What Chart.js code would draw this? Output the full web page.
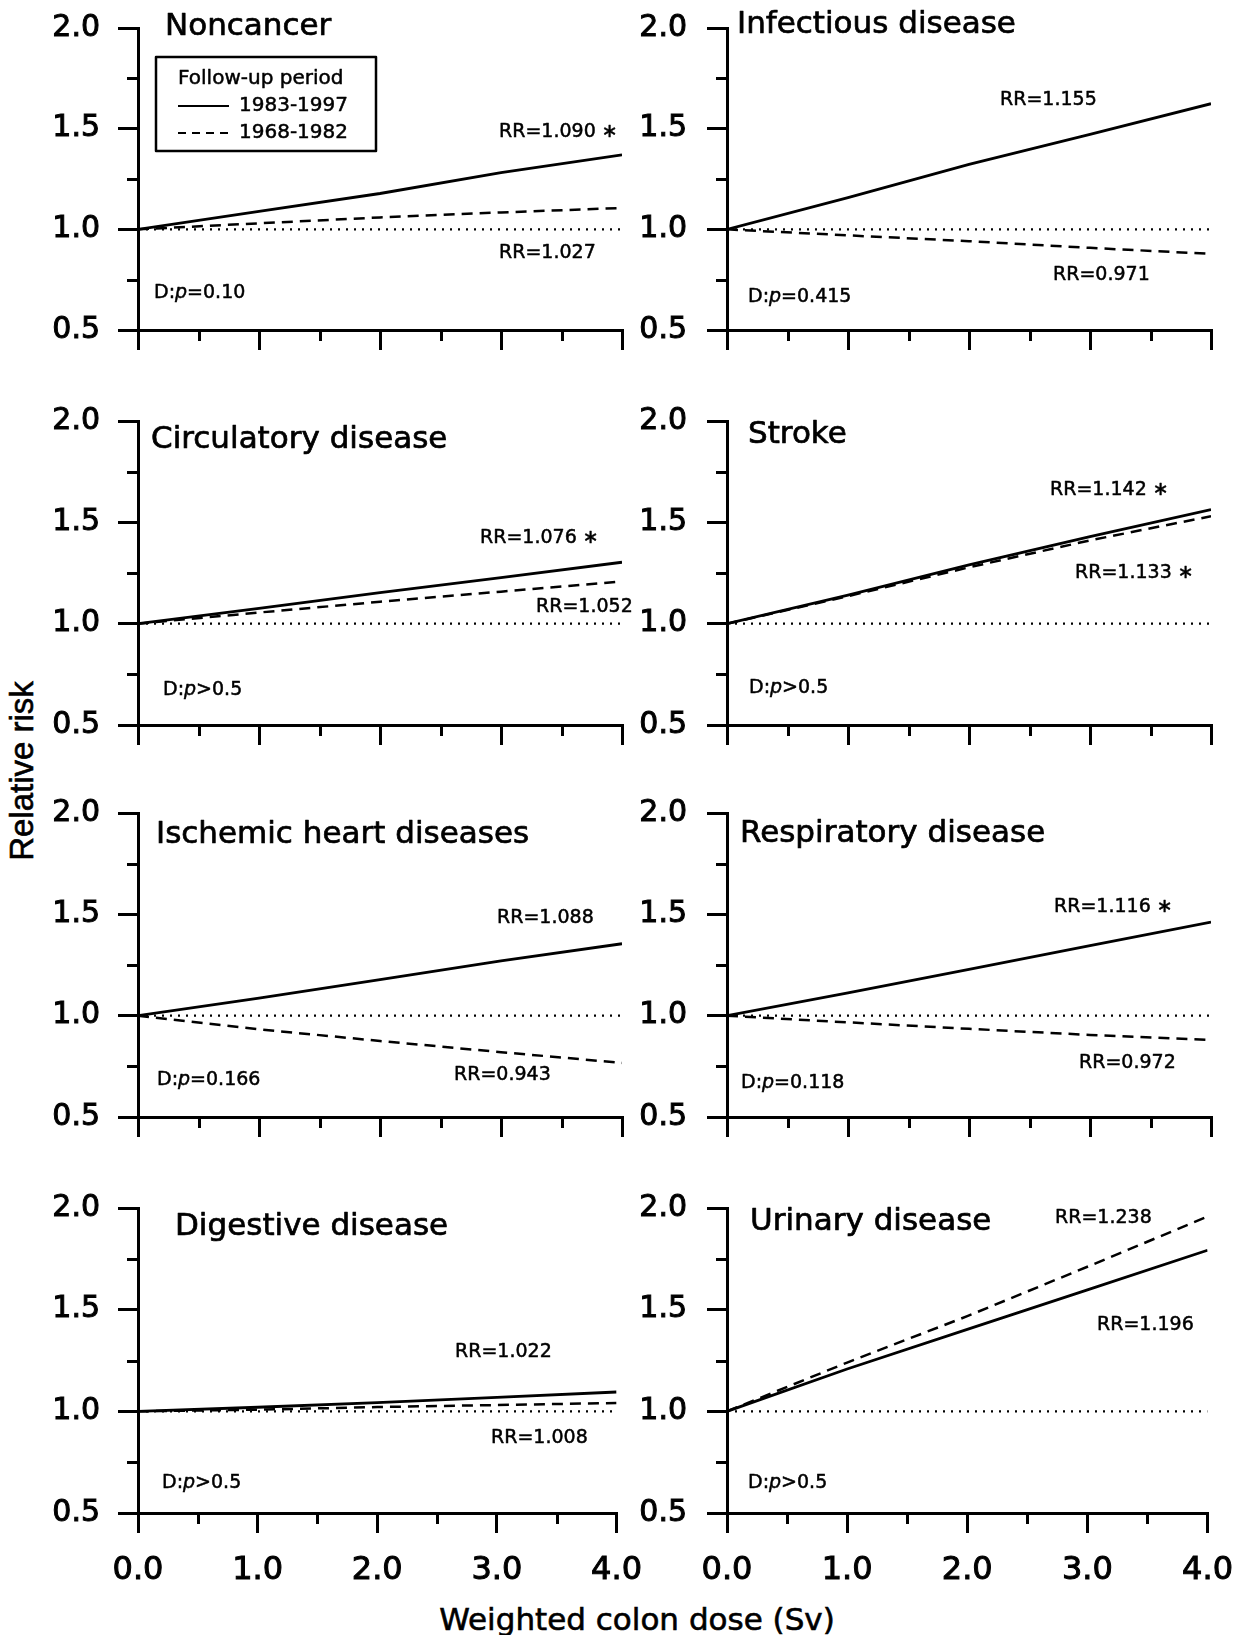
<!DOCTYPE html>
<html>
<head>
<meta charset="utf-8">
<script src="https://cdn.jsdelivr.net/npm/chart.js@4.4.1/dist/chart.umd.min.js"></script>
<style>
  body { margin: 0; background: #fff; width: 1251px; height: 1635px; position: relative; overflow: hidden; }
  canvas { position: absolute; }
  .axis-title { position: absolute; white-space: nowrap; color: #000; -webkit-text-stroke: 0.6px #000; }
  #ytitle { left: 22px; top: 771px; font: 33px "Liberation Sans", Arial, sans-serif; transform: translate(-50%, -50%) rotate(-90deg); }
  #xtitle { left: 637px; top: 1619px; font: 31px "DejaVu Sans", sans-serif; transform: translate(-50%, -50%); }
</style>
</head>
<body>
<div id="ytitle" class="axis-title">Relative risk</div>
<div id="xtitle" class="axis-title">Weighted colon dose (Sv)</div>
<script>
// dose grid and tick labels
const doses = [0, 1, 2, 3, 4];
const xTickLabels = ["0.0", "1.0", "2.0", "3.0", "4.0"];
const yTickLabels = ["0.5", "1.0", "1.5", "2.0"];
const seriesNames = ["1983-1997", "1968-1982"];
const referenceLine = [1.0, 1.0, 1.0, 1.0, 1.0];

const panelTitles = ["Noncancer", "Infectious disease", "Circulatory disease", "Stroke",
    "Ischemic heart diseases", "Respiratory disease", "Digestive disease", "Urinary disease"];

// relative risk at 0,1,2,3,4 Sv
const noncancerLate = [1.0, 1.089, 1.178, 1.282, 1.370];
const noncancerEarly = [1.0, 1.030, 1.059, 1.084, 1.106];
const infectiousLate = [1.0, 1.158, 1.323, 1.472, 1.624];
const infectiousEarly = [1.0, 0.970, 0.941, 0.908, 0.878];
const circulatoryLate = [1.0, 1.075, 1.153, 1.227, 1.303];
const circulatoryEarly = [1.0, 1.055, 1.108, 1.158, 1.208];
const strokeLate = [1.0, 1.141, 1.290, 1.430, 1.563];
const strokeEarly = [1.0, 1.136, 1.278, 1.411, 1.530];
const ischemicLate = [1.0, 1.087, 1.178, 1.270, 1.355];
const ischemicEarly = [1.0, 0.933, 0.875, 0.820, 0.767];
const respiratoryLate = [1.0, 1.113, 1.229, 1.346, 1.462];
const respiratoryEarly = [1.0, 0.967, 0.935, 0.905, 0.880];
const digestiveLate = [1.0, 1.020, 1.043, 1.069, 1.095];
const digestiveEarly = [1.0, 1.008, 1.021, 1.031, 1.041];
const urinaryLate = [1.0, 1.208, 1.403, 1.597, 1.792];
const urinaryEarly = [1.0, 1.240, 1.468, 1.711, 1.958];

// printed RR per Sv and trend test
const lateRR = ["1.090", "1.155", "1.076", "1.142", "1.088", "1.116", "1.022", "1.196"];
const lateSig = [true, false, true, true, false, true, false, false];
const earlyRR = ["1.027", "0.971", "1.052", "1.133", "0.943", "0.972", "1.008", "1.238"];
const earlySig = [false, false, false, true, false, false, false, false];
const trendP = ["=0.10", "=0.415", ">0.5", ">0.5", "=0.166", "=0.118", ">0.5", ">0.5"];

const lateSeries = [noncancerLate, infectiousLate, circulatoryLate, strokeLate,
    ischemicLate, respiratoryLate, digestiveLate, urinaryLate];
const earlySeries = [noncancerEarly, infectiousEarly, circulatoryEarly, strokeEarly,
    ischemicEarly, respiratoryEarly, digestiveEarly, urinaryEarly];

// page layout (pixels)
const cols = [
    {left: 0, width: 660, L: 138, R: 622, labelPad: 18},
    {left: 620, width: 631, L: 727, R: 1211, labelPad: 20},
];
const rows = [
    {T: 28, B: 330}, {T: 421, B: 725}, {T: 813, B: 1117}, {T: 1208, B: 1513},
];
const textPos = [
    {title: [165, 27], late: [499, 132], early: [499, 253], p: [154, 293]},
    {title: [737, 25], late: [1000, 100], early: [1053, 275], p: [748, 297]},
    {title: [151, 440], late: [480, 538], early: [536, 607], p: [163, 690]},
    {title: [748, 435], late: [1050, 490], early: [1075, 573], p: [749, 688]},
    {title: [156, 835], late: [497, 918], early: [454, 1075], p: [157, 1080]},
    {title: [740, 834], late: [1054, 907], early: [1079, 1063], p: [741, 1083]},
    {title: [175, 1227], late: [455, 1352], early: [491, 1438], p: [162, 1483]},
    {title: [750, 1222], late: [1097, 1325], early: [1055, 1218], p: [748, 1483]},
];

const FONT = '"DejaVu Sans", sans-serif';
const PAD_TOP = 44;

function pts(values) {
    return doses.map((d, i) => ({x: d, y: values[i]}));
}

// text with a thin outline, so it reads as heavy as the scan
function heavyText(ctx, str, x, y, w) {
    ctx.lineWidth = w;
    ctx.strokeText(str, x, y);
    ctx.fillText(str, x, y);
}

function makeDecor(idx, offX, offY) {
    return {
        id: "decor" + idx,
        afterDraw(chart) {
            const ctx = chart.ctx;
            const xs = chart.scales.x;
            const ys = chart.scales.y;
            const area = chart.chartArea;
            ctx.save();
            ctx.strokeStyle = "#000";
            ctx.fillStyle = "#000";
            ctx.lineWidth = 3;
            // minor ticks
            ctx.beginPath();
            [0.75, 1.25, 1.75].forEach((v) => {
                const py = Math.round(ys.getPixelForValue(v)) + 0.5;
                ctx.moveTo(area.left - 11, py);
                ctx.lineTo(area.left, py);
            });
            [0.5, 1.5, 2.5, 3.5].forEach((v) => {
                const px = Math.round(xs.getPixelForValue(v)) + 0.5;
                ctx.moveTo(px, area.bottom);
                ctx.lineTo(px, area.bottom + 11);
            });
            ctx.stroke();

            const tp = textPos[idx];
            ctx.textBaseline = "middle";
            ctx.textAlign = "left";
            ctx.lineJoin = "round";
            ctx.font = "31px " + FONT;
            heavyText(ctx, panelTitles[idx], tp.title[0] - offX, tp.title[1] - offY, 0.7);

            ctx.font = "19px " + FONT;
            heavyText(ctx, "RR=" + lateRR[idx] + (lateSig[idx] ? " \u2217" : ""), tp.late[0] - offX, tp.late[1] - offY, 0.5);
            heavyText(ctx, "RR=" + earlyRR[idx] + (earlySig[idx] ? " \u2217" : ""), tp.early[0] - offX, tp.early[1] - offY, 0.5);

            // D:p label with italic p
            let x = tp.p[0] - offX;
            const y = tp.p[1] - offY;
            heavyText(ctx, "D:", x, y, 0.5);
            x += ctx.measureText("D:").width;
            ctx.font = "italic 19px " + FONT;
            heavyText(ctx, "p", x, y, 0.5);
            x += ctx.measureText("p").width;
            ctx.font = "19px " + FONT;
            heavyText(ctx, trendP[idx], x, y, 0.5);

            if (idx === 0) {
                // legend box
                ctx.lineWidth = 2.5;
                ctx.strokeRect(156 - offX, 57 - offY, 220, 94);
                ctx.font = "20px " + FONT;
                heavyText(ctx, "Follow-up period", 178 - offX, 79 - offY, 0.5);
                heavyText(ctx, seriesNames[0], 239 - offX, 106 - offY, 0.5);
                heavyText(ctx, seriesNames[1], 239 - offX, 133 - offY, 0.5);
                ctx.lineWidth = 2.2;
                ctx.beginPath();
                ctx.moveTo(178 - offX, 106 - offY);
                ctx.lineTo(229 - offX, 106 - offY);
                ctx.stroke();
                ctx.setLineDash([8, 6]);
                ctx.beginPath();
                ctx.moveTo(178 - offX, 133 - offY);
                ctx.lineTo(229 - offX, 133 - offY);
                ctx.stroke();
            }
            ctx.restore();
        },
    };
}

panelTitles.forEach((title, idx) => {
    const col = cols[idx % 2];
    const rowIdx = Math.floor(idx / 2);
    const row = rows[rowIdx];
    const bottomRow = rowIdx === rows.length - 1;
    const xH = bottomRow ? 95 : 44;
    const top = row.T - PAD_TOP;
    const height = PAD_TOP + (row.B - row.T) + xH;

    const canvas = document.createElement("canvas");
    canvas.width = col.width;
    canvas.height = height;
    canvas.style.left = col.left + "px";
    canvas.style.top = top + "px";
    document.body.appendChild(canvas);

    const axisGrid = {
        display: true,
        drawOnChartArea: false,
        drawTicks: true,
        tickLength: 20,
        lineWidth: 3,
        color: "#000",
    };
    const axisBorder = {display: true, width: 3, color: "#000"};

    new Chart(canvas.getContext("2d"), {
        type: "line",
        data: {
            datasets: [
                {data: pts(referenceLine), borderColor: "#000", borderWidth: 2.2, borderDash: [2, 6], pointRadius: 0},
                {label: seriesNames[1], data: pts(earlySeries[idx]), borderColor: "#000", borderWidth: 2.5, borderDash: [11, 7], pointRadius: 0},
                {label: seriesNames[0], data: pts(lateSeries[idx]), borderColor: "#000", borderWidth: 2.8, pointRadius: 0},
            ],
        },
        options: {
            responsive: false,
            animation: false,
            events: [],
            layout: {padding: {top: PAD_TOP, right: col.left + col.width - col.R, left: 0, bottom: 0}},
            plugins: {legend: {display: false}, tooltip: {enabled: false}},
            scales: {
                x: {
                    type: "linear",
                    min: 0,
                    max: 4,
                    afterFit: (s) => { s.height = xH; },
                    afterBuildTicks: (s) => { s.ticks = doses.map((v) => ({value: v})); },
                    ticks: {
                        display: bottomRow,
                        autoSkip: false,
                        maxRotation: 0,
                        padding: 18,
                        color: "#000",
                        textStrokeColor: "#000",
                        textStrokeWidth: 1,
                        font: {family: FONT, size: 32},
                        callback: (v, i) => xTickLabels[i],
                    },
                    grid: axisGrid,
                    border: axisBorder,
                },
                y: {
                    type: "linear",
                    min: 0.5,
                    max: 2.0,
                    afterFit: (s) => { s.width = col.L - col.left; },
                    afterBuildTicks: (s) => { s.ticks = yTickLabels.map((t) => ({value: parseFloat(t)})); },
                    ticks: {
                        autoSkip: false,
                        padding: col.labelPad,
                        color: "#000",
                        textStrokeColor: "#000",
                        textStrokeWidth: 1,
                        font: {family: FONT, size: 30},
                        callback: (v, i) => yTickLabels[i],
                    },
                    grid: axisGrid,
                    border: axisBorder,
                },
            },
        },
        plugins: [makeDecor(idx, col.left, top)],
    });
});
</script>
</body>
</html>
